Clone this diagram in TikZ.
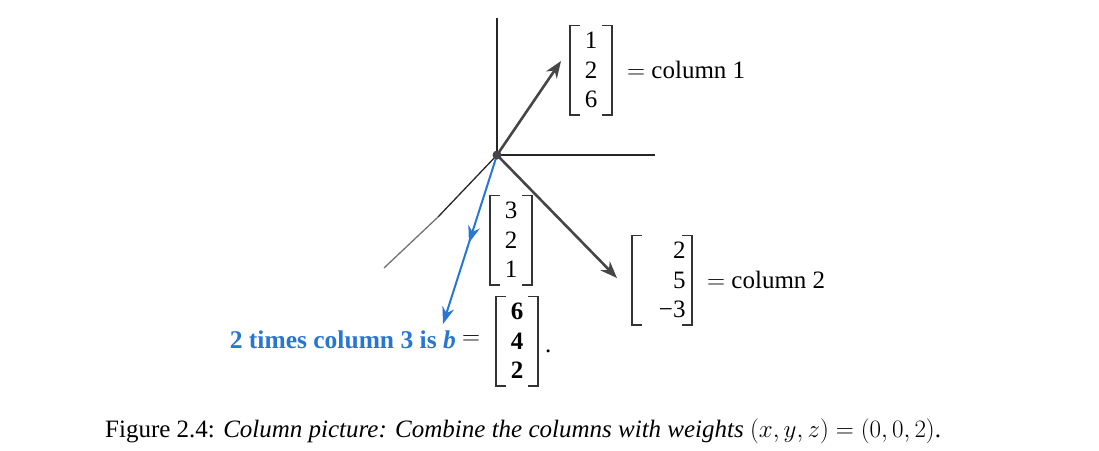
\RequirePackage{fix-cm}
\documentclass[tikz,border=0pt]{standalone}
\usepackage{fontspec}
\setmainfont{Liberation Serif}
\usetikzlibrary{arrows.meta,decorations.markings}
\definecolor{figblue}{RGB}{40,118,212}
\definecolor{vecgray}{RGB}{70,70,70}
\begin{document}
\begin{tikzpicture}[x=1pt,y=-1pt,
  axis/.style={line width=1.3pt,black!85},
  vec/.style={line width=2.6pt,vecgray,-{Stealth[length=17pt,width=13pt]}},
  bvec/.style={line width=2pt,figblue,-{Stealth[length=17pt,width=12pt]},
     postaction={decorate},
     decoration={markings,mark=at position 0.52 with {\arrow{Stealth[length=17pt,width=12pt]}}}},
  ent/.style={font=\fontsize{25}{29.5}\selectfont,inner sep=0pt,minimum height=89pt},
  brk/.style={line width=1.6pt,black!80},
  txt/.style={font=\fontsize{25}{29}\selectfont,inner sep=0pt},
]
\useasboundingbox (0,0) rectangle (1099,450);
\coordinate (O) at (497,155);
\coordinate (ytop) at (497,18);
\coordinate (xend) at (655,155);
\coordinate (zmid) at (438,217);
\coordinate (zend) at (384,268);
\coordinate (c1) at (561,61);
\coordinate (c2) at (617,278);
\coordinate (bt) at (443,324);

% axes
\draw[axis] (O) -- (ytop);
\draw[axis] (O) -- (xend);
\draw[axis] (O) -- (zmid);
\draw[line width=1.3pt,black!55] (zmid) -- (zend);

% vectors
\draw[vec] (O) -- (c1);
\draw[vec] (O) -- (c2);
\draw[bvec] (O) -- (bt);
\fill[vecgray] (O) circle (4.5pt);

% matrices
\newcommand{\brackets}[2]{%
  \draw[brk] ([xshift=#2+10pt]#1.north west) -- ([xshift=#2]#1.north west) -- ([xshift=#2]#1.south west) -- ([xshift=#2+10pt]#1.south west);
  \draw[brk] ([xshift=-#2-10pt]#1.north east) -- ([xshift=-#2]#1.north east) -- ([xshift=-#2]#1.south east) -- ([xshift=-#2-10pt]#1.south east);}

\node[ent,align=center,minimum width=42pt] (m1) at (591,70) {1\\2\\6};
\brackets{m1}{0pt}
\node[txt,anchor=west] (l1) at (627,70) {$=$ column 1};

\node[ent,align=center,minimum width=42pt] (m3) at (511,240) {3\\2\\1};
\brackets{m3}{0pt}

\node[ent,align=right,minimum width=60pt,text width=47pt] (m2) at (662,280) {2\\5\\\char"2212 3};
\brackets{m2}{0pt}
\node[txt,anchor=west] (l2) at (707,280) {$=$ column 2};

\node[ent,align=center,minimum width=42pt,font=\fontsize{25}{29.5}\selectfont\bfseries] (mb) at (517,341) {6\\4\\2};
\brackets{mb}{0pt}
\node[txt,anchor=base west] (dot) at (545,352) {.};

\node[txt,anchor=base east,text=figblue,font=\fontsize{25.5}{29}\selectfont\bfseries] (bl) at (456,348) {2 times column 3 is \textit{b}};
\node[txt] (eq) at (471,340) {$=$};

% caption
\node[txt,anchor=base west] (cap) at (105,437) {Figure 2.4: \textit{Column picture: Combine the columns with weights} $(x,y,z)=(0,0,2)$.};
\end{tikzpicture}
\end{document}
